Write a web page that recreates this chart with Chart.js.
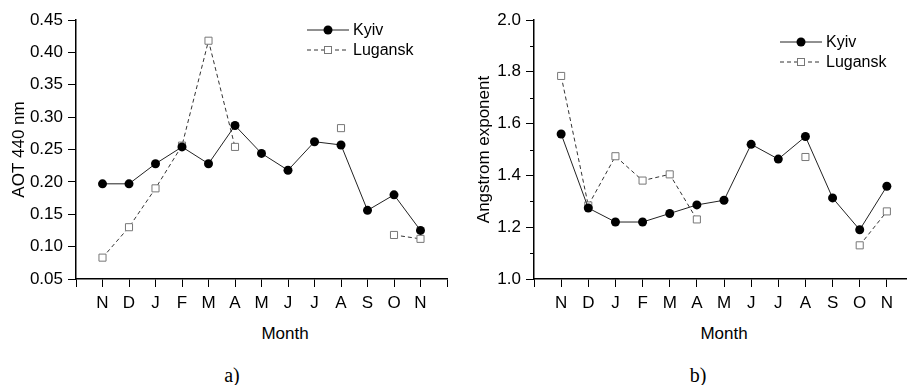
<!DOCTYPE html>
<html>
<head>
<meta charset="utf-8">
<script src="https://cdn.jsdelivr.net/npm/chart.js@4"></script>
<style>
  html, body { margin: 0; padding: 0; background: #fff; overflow: hidden; }
  #wrap { position: relative; width: 907px; height: 385px; overflow: hidden; }
  .box { position: absolute; top: 0; height: 320px; }
  .lbl { position: absolute; transform: translateX(-50%); white-space: nowrap; color: #000; }
  .month { font: 17px "Liberation Sans", Arial, sans-serif; top: 324px; }
  .cap { font: 20px "Liberation Serif", "Times New Roman", serif; top: 364px; }
</style>
</head>
<body>
<div id="wrap">
  <div class="box" style="left:0;width:453px"><canvas id="chartA"></canvas></div>
  <div class="box" style="left:453px;width:470px"><canvas id="chartB"></canvas></div>
  <div class="lbl month" style="left:285px">Month</div>
  <div class="lbl month" style="left:724px">Month</div>
  <div class="lbl cap" style="left:232px">a)</div>
  <div class="lbl cap" style="left:698px">b)</div>
</div>
<script>
const months = ["N", "D", "J", "F", "M", "A", "M", "J", "J", "A", "S", "O", "N"];

const aotKyiv = [0.197, 0.197, 0.228, 0.254, 0.228, 0.287, 0.244, 0.218, 0.262, 0.257, 0.156, 0.180, 0.125];
const aotLugansk = [0.083, 0.130, 0.190, 0.256, 0.418, 0.254, null, null, null, 0.283, null, 0.118, 0.112];

const angKyiv = [1.560, 1.274, 1.220, 1.220, 1.253, 1.286, 1.304, 1.520, 1.463, 1.550, 1.313, 1.190, 1.358];
const angLugansk = [1.784, 1.284, 1.474, 1.380, 1.404, 1.230, null, null, null, 1.471, null, 1.130, 1.261];

const FONT = "'Liberation Sans', Arial, sans-serif";

function toPoints(arr) {
  return arr.map((v, i) => ({ x: i, y: v }));
}

// small legend drawn inside the plot, like the original figure
const miniLegend = {
  id: "miniLegend",
  afterDraw(chart, args, opts) {
    const ctx = chart.ctx;
    ctx.save();
    chart.data.datasets.forEach((ds, i) => {
      const y = opts.y + i * 20;
      const x = opts.x;
      ctx.strokeStyle = ds.borderColor;
      ctx.lineWidth = 1;
      ctx.setLineDash(ds.borderDash || []);
      ctx.beginPath();
      ctx.moveTo(x, y);
      ctx.lineTo(x + 42, y);
      ctx.stroke();
      ctx.setLineDash([]);
      const cx = x + 21;
      if (ds.pointStyle === "rect") {
        ctx.fillStyle = "#fff";
        ctx.fillRect(cx - 3.5, y - 3.5, 7, 7);
        ctx.strokeStyle = ds.pointBorderColor;
        ctx.strokeRect(cx - 3.5, y - 3.5, 7, 7);
      } else {
        ctx.fillStyle = ds.pointBackgroundColor;
        ctx.beginPath();
        ctx.arc(cx, y, 4.5, 0, Math.PI * 2);
        ctx.fill();
      }
      ctx.fillStyle = "#000";
      ctx.font = "16px " + FONT;
      ctx.textBaseline = "middle";
      ctx.fillText(ds.label, x + 46, y + 1);
    });
    ctx.restore();
  },
};

// short minor ticks on the y axis
const minorTicks = {
  id: "minorTicks",
  afterDraw(chart, args, opts) {
    if (!opts.values) return;
    const ctx = chart.ctx;
    const scale = chart.scales.y;
    ctx.save();
    ctx.strokeStyle = "#000";
    ctx.lineWidth = 1;
    opts.values.forEach((v) => {
      const y = Math.round(scale.getPixelForValue(v)) + 0.5;
      ctx.beginPath();
      ctx.moveTo(scale.right - 4, y);
      ctx.lineTo(scale.right, y);
      ctx.stroke();
    });
    ctx.restore();
  },
};

function makeChart(id, kyiv, lugansk, cfg) {
  const ctx = document.getElementById(id).getContext("2d");
  return new Chart(ctx, {
    type: "line",
    data: {
      datasets: [
        {
          label: "Kyiv",
          data: toPoints(kyiv),
          borderColor: "#222",
          borderWidth: 1,
          pointStyle: "circle",
          pointRadius: 4.5,
          pointBackgroundColor: "#000",
          pointBorderColor: "#000",
          pointBorderWidth: 0,
          tension: 0,
        },
        {
          label: "Lugansk",
          data: toPoints(lugansk),
          borderColor: "#333",
          borderWidth: 1,
          borderDash: [4, 3],
          pointStyle: "rect",
          pointRadius: 5,
          pointBackgroundColor: "#fff",
          pointBorderColor: "#777",
          pointBorderWidth: 1,
          spanGaps: false,
          tension: 0,
        },
      ],
    },
    options: {
      animation: false,
      responsive: true,
      maintainAspectRatio: false,
      layout: {
        padding: { top: 20, left: cfg.padLeft, right: cfg.padRight, bottom: 0 },
      },
      scales: {
        x: {
          type: "linear",
          min: -1,
          max: 13,
          border: { color: "#000", width: 1.5 },
          grid: { drawOnChartArea: false, tickLength: 8, tickColor: "#000" },
          ticks: {
            stepSize: 1,
            autoSkip: false,
            maxRotation: 0,
            padding: 6,
            color: "#000",
            font: { family: FONT, size: 17 },
            callback: (v) => months[v] || "",
          },
          afterFit: (scale) => { scale.height = 41; },
        },
        y: {
          min: cfg.min,
          max: cfg.max,
          border: { color: "#000", width: 1.5 },
          grid: { drawOnChartArea: false, tickLength: 8, tickColor: "#000" },
          ticks: {
            stepSize: cfg.step,
            padding: 5,
            color: "#000",
            font: { family: FONT, size: 17 },
            callback: (v) => v.toFixed(cfg.digits),
          },
          title: {
            display: true,
            text: cfg.title,
            color: "#000",
            padding: 0,
            font: { family: FONT, size: 17 },
          },
          afterFit: (scale) => { scale.width = cfg.yWidth; },
        },
      },
      plugins: {
        legend: { display: false },
        tooltip: { enabled: false },
        miniLegend: { x: cfg.legX, y: cfg.legY },
        minorTicks: { values: cfg.minor },
      },
    },
    plugins: [miniLegend, minorTicks],
  });
}

makeChart("chartA", aotKyiv, aotLugansk, {
  min: 0.05, max: 0.45, step: 0.05, digits: 2,
  title: "AOT 440 nm",
  padLeft: 9, padRight: 6, yWidth: 67,
  legX: 307, legY: 30,
  minor: null,
});

makeChart("chartB", angKyiv, angLugansk, {
  min: 1.0, max: 2.0, step: 0.2, digits: 1,
  title: "Angstrom exponent",
  padLeft: 21, padRight: 9, yWidth: 60,
  legX: 327, legY: 42,
  minor: [1.1, 1.3, 1.5, 1.7, 1.9],
});
</script>
</body>
</html>
